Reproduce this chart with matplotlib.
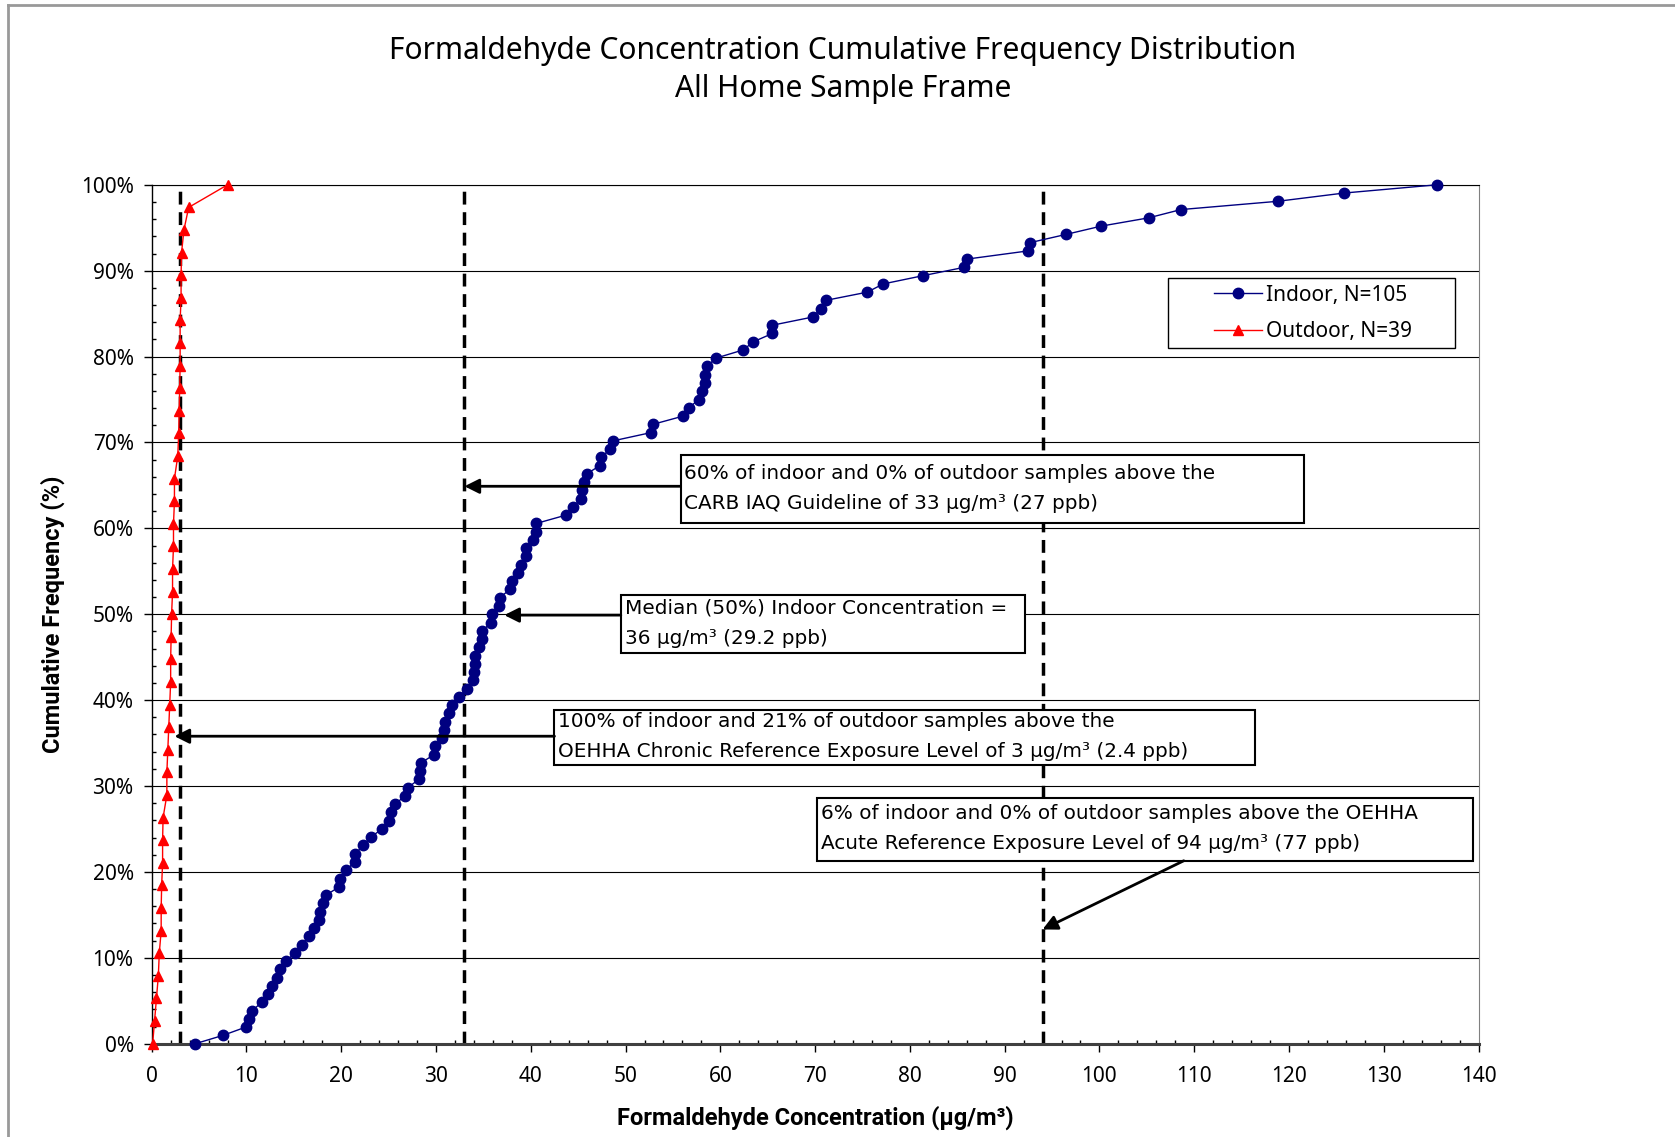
import matplotlib
matplotlib.use("Agg")
import matplotlib.pyplot as plt
import numpy as np
from matplotlib.ticker import MultipleLocator, PercentFormatter
from matplotlib.patches import Rectangle
from matplotlib.lines import Line2D

# formaldehyde concentrations (ug/m3), sorted
indoor = [4.6, 7.5, 9.9, 10.3, 10.6, 11.6, 12.3, 12.7, 13.2, 13.5,
          14.2, 15.1, 15.9, 16.6, 17.1, 17.7, 17.8, 18.1, 18.4, 19.8,
          19.9, 20.5, 21.4, 21.5, 22.3, 23.1, 24.3, 25.0, 25.2, 25.7,
          26.7, 27.0, 28.2, 28.3, 28.4, 29.8, 29.9, 30.6, 30.8, 31.0,
          31.4, 31.7, 32.4, 33.3, 33.9, 34.0, 34.1, 34.1, 34.5, 34.9,
          34.9, 35.8, 35.9, 36.6, 36.7, 37.8, 38.0, 38.6, 39.0, 39.5,
          39.5, 40.2, 40.5, 40.6, 43.7, 44.5, 45.3, 45.4, 45.6, 45.9,
          47.3, 47.4, 48.4, 48.7, 52.7, 52.9, 56.1, 56.7, 57.7, 58.1,
          58.4, 58.4, 58.6, 59.5, 62.4, 63.5, 65.5, 65.5, 69.8, 70.6,
          71.1, 75.5, 77.2, 81.4, 85.7, 86.0, 92.5, 92.7, 96.5, 100.2,
          105.2, 108.6, 118.8, 125.8, 135.6]
outdoor = [0.1, 0.3, 0.5, 0.7, 0.8, 1.0, 1.0, 1.05, 1.15, 1.15,
           1.2, 1.6, 1.6, 1.7, 1.8, 1.9, 2.0, 2.0, 2.05, 2.1,
           2.2, 2.2, 2.3, 2.3, 2.4, 2.4, 2.75, 2.85, 2.9, 2.95,
           3.0, 3.0, 3.0, 3.1, 3.1, 3.15, 3.4, 3.9, 8.0]
guidelines = [3, 33, 94]

notes = [
    "60% of indoor and 0% of outdoor samples above the\nCARB IAQ Guideline of 33 µg/m³ (27 ppb)",
    "Median (50%) Indoor Concentration =\n36 µg/m³ (29.2 ppb)",
    "100% of indoor and 21% of outdoor samples above the\nOEHHA Chronic Reference Exposure Level of 3 µg/m³ (2.4 ppb)",
    "6% of indoor and 0% of outdoor samples above the OEHHA\nAcute Reference Exposure Level of 94 µg/m³ (77 ppb)",
]

# cumulative frequency in %
y_in = np.arange(len(indoor)) / (len(indoor) - 1) * 100
y_out = np.arange(len(outdoor)) / (len(outdoor) - 1) * 100

W, H = 1675, 1137
fig = plt.figure(figsize=(W / 100, H / 100), dpi=100)
ax = fig.add_axes([151.7 / W, 1 - 1043.7 / H, (1478.5 - 151.7) / W, (1043.7 - 184.8) / H])

sans = ["Noto Sans", "DejaVu Sans"]
boldsans = ["Roboto", "DejaVu Sans"]
boxfont = ["DejaVu Sans"]

ax.set_xlim(0, 140)
ax.set_ylim(0, 100)
ax.xaxis.set_major_locator(MultipleLocator(10))
ax.xaxis.set_minor_locator(MultipleLocator(2))
ax.yaxis.set_major_locator(MultipleLocator(10))
ax.yaxis.set_minor_locator(MultipleLocator(2))
ax.yaxis.set_major_formatter(PercentFormatter(100, decimals=0))
ax.grid(axis="y", which="major", color="black", lw=0.8, zorder=0)
ax.set_axisbelow(True)

ax.tick_params(which="major", direction="out", length=6, width=1, color="black")
ax.tick_params(which="minor", direction="in", length=3, width=1, color="black")
ax.tick_params(axis="y", pad=7)
ax.tick_params(axis="x", pad=10)
for lab in ax.get_xticklabels() + ax.get_yticklabels():
    lab.set_family(sans)
    lab.set_fontsize(15)

ax.spines["bottom"].set_color("#404040")
ax.spines["bottom"].set_linewidth(2.2)
ax.spines["left"].set_color("black")
ax.spines["left"].set_linewidth(1)
ax.spines["right"].set_color("#808080")
ax.spines["top"].set_color("black")
ax.spines["top"].set_linewidth(0.8)

ax.vlines(guidelines, 0, 100, colors="black", linestyles=(0, (3.7, 2.2)), lw=2.5, zorder=2)

ax.plot(indoor, y_in, color="#000080", lw=1, marker="o", ms=7.5, mec="#000080", mfc="#000080",
        label="Indoor, N=105", zorder=4, clip_on=False)
ax.plot(outdoor, y_out, color="#FF0000", lw=1, marker="^", ms=7.5, mec="#FF0000", mfc="#FF0000",
        label="Outdoor, N=39", zorder=4, clip_on=False)

# annotation boxes (x0, x1, y0, y1 in data units), text lines and arrows
boxes = [(55.8, 121.6, 60.6, 68.5), (49.5, 92.2, 45.5, 52.2),
         (42.5, 116.4, 32.5, 38.9), (70.2, 139.4, 21.3, 28.6)]
arrows = [((55.8, 64.9), (33.0, 64.9)), ((49.5, 49.9), (37.2, 49.9)),
          ((42.5, 35.8), (2.4, 35.8)), ((108.9, 21.3), (94.0, 13.3))]
for (x0, x1, y0, y1), txt, (start, tip) in zip(boxes, notes, arrows):
    ax.add_patch(Rectangle((x0, y0), x1 - x0, y1 - y0, facecolor="white",
                           edgecolor="black", lw=1.5, zorder=5))
    ax.text(x0 + 0.4, (y0 + y1) / 2 + 0.1, txt, ha="left", va="center", fontsize=14.4,
            family=boxfont, linespacing=1.75, zorder=6)
    ax.annotate("", xy=tip, xytext=start,
                arrowprops=dict(arrowstyle="-|>", color="black", lw=2,
                                mutation_scale=22, shrinkA=0, shrinkB=0),
                zorder=6)

# legend: frame drawn separately so it can be wider than its contents
leg_x0, leg_y0, leg_x1, leg_y1 = 1167.6, 277.8, 1455.0, 348.3
ax.add_patch(Rectangle((leg_x0 / W, 1 - leg_y1 / H), (leg_x1 - leg_x0) / W,
                       (leg_y1 - leg_y0) / H, transform=fig.transFigure,
                       facecolor="white", edgecolor="black", lw=1, zorder=6,
                       clip_on=False))
leg = ax.legend(loc="center left", bbox_to_anchor=(1214 / W, 1 - 313.5 / H),
                bbox_transform=fig.transFigure, frameon=False,
                prop={"family": sans, "size": 15}, handlelength=2.3,
                borderpad=0, labelspacing=0.75, handletextpad=0.2,
                borderaxespad=0)
leg.set_zorder(8)

fig.text(843 / W, 1 - 51 / H, "Formaldehyde Concentration Cumulative Frequency Distribution",
         ha="center", va="center", fontsize=21.6, family=sans)
fig.text(843 / W, 1 - 89 / H, "All Home Sample Frame",
         ha="center", va="center", fontsize=21.6, family=sans)
fig.text(53 / W, 1 - 614 / H, "Cumulative Frequency (%)", rotation=90,
         ha="center", va="center", fontsize=17, fontweight="bold", family=boldsans)
fig.text(815 / W, 1 - 1118 / H, "Formaldehyde Concentration (µg/m³)",
         ha="center", va="center", fontsize=17, fontweight="bold", family=boldsans)

# outer chart border (top and left only visible)
fig.add_artist(Line2D([8 / W, 1], [1 - 5 / H, 1 - 5 / H], transform=fig.transFigure,
                      color="#999999", lw=2))
fig.add_artist(Line2D([8 / W, 8 / W], [0, 1 - 5 / H], transform=fig.transFigure,
                      color="#999999", lw=2))

fig.savefig("out.png", dpi=100)
